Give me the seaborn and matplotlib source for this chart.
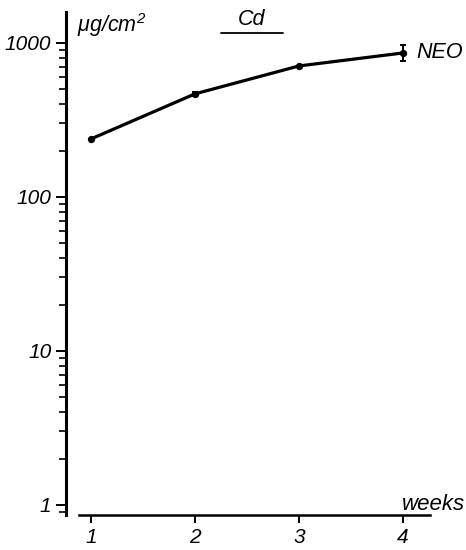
import numpy as np
import pandas as pd
import matplotlib
matplotlib.use("Agg")
import matplotlib.pyplot as plt
import seaborn as sns

# data
weeks = [1, 2, 3, 4]
cd_ug_cm2 = [238, 467, 709, 861]
err_low = [0, 15, 0, 100]
err_high = [0, 15, 0, 110]
ytick_vals = [1, 10, 100, 1000]
ytick_labels = ["1", "10", "100", "1000"]

df = pd.DataFrame({"week": weeks, "cd": cd_ug_cm2})

sns.set_style("ticks", {"text.color": "black", "xtick.color": "black",
                        "ytick.color": "black", "axes.edgecolor": "black"})
plt.rcParams["font.family"] = ["Liberation Sans", "DejaVu Sans"]
plt.rcParams["font.style"] = "italic"
plt.rcParams["mathtext.fontset"] = "custom"
plt.rcParams["mathtext.it"] = "Liberation Sans:italic"
plt.rcParams["mathtext.rm"] = "Liberation Sans:italic"

fig = plt.figure(figsize=(4.66, 5.5), dpi=100)
ax = fig.add_axes([0.1416, 0.0636, 0.781, 0.9146])

sns.lineplot(data=df, x="week", y="cd", ax=ax, color="black", lw=2.3,
             marker="o", markersize=4.5, markeredgecolor="black")
ax.errorbar(weeks, cd_ug_cm2, yerr=[err_low, err_high], fmt="none",
            ecolor="black", elinewidth=1.4, capsize=2.5, capthick=1.4)

ax.set_yscale("log")
ax.set_xlim(0.76, 4.26)
ax.set_ylim(0.86, 1589)
ax.set_yticks(ytick_vals)
ax.set_yticklabels(ytick_labels)
ax.set_xticks(weeks)
ax.set_xticklabels([str(w) for w in weeks])
ax.yaxis.set_minor_locator(matplotlib.ticker.LogLocator(base=10, subs=np.arange(2, 10)))
ax.yaxis.set_minor_formatter(matplotlib.ticker.NullFormatter())

for s in ["top", "right"]:
    ax.spines[s].set_visible(False)
ax.spines["left"].set_linewidth(2.2)
ax.spines["bottom"].set_linewidth(1.8)
ax.spines["bottom"].set_bounds(0.885, 4.26)

ax.tick_params(axis="y", which="major", length=7.5, width=1.4, labelsize=15, pad=3)
ax.tick_params(axis="y", which="minor", length=5, width=1.2)
ax.tick_params(axis="x", which="major", length=6, width=1.4, labelsize=15, pad=3)
ax.set_xlabel("")
ax.set_ylabel("")

ax.text(0.87, 1309, r"$\mu$g/cm$^2$", fontsize=15.5, ha="left", va="center",
        clip_on=False)
ax.text(0.76 + (252 - 66) / 104, 1420, "Cd", fontsize=15.5, ha="center",
        va="center", clip_on=False)
ax.plot([0.76 + (221 - 66) / 104, 0.76 + (283 - 66) / 104], [1161, 1161],
        color="black", lw=1.3, clip_on=False)
ax.text(4.13, 861, "NEO", fontsize=15.5, ha="left", va="center", clip_on=False)
ax.text(4.6, 1.0, "weeks", fontsize=16, ha="right", va="center", clip_on=False)

fig.savefig("out.png", dpi=100)
